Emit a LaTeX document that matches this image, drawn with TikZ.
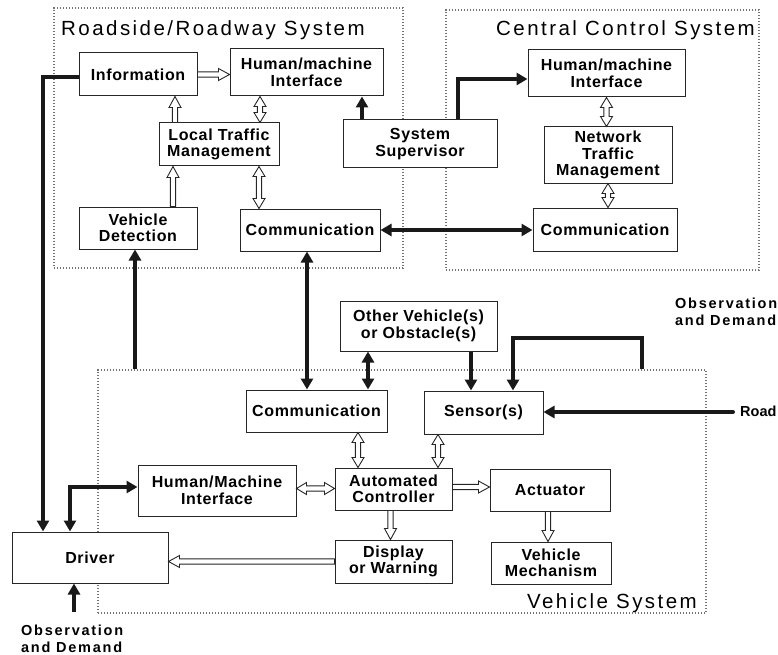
\documentclass[tikz,border=0pt]{standalone}
\usepackage{fontspec}
\setmainfont{Liberation Sans}
\newfontfamily\boxfont[LetterSpace=4]{Liberation Sans}
\newfontfamily\ttlfont[LetterSpace=12]{Liberation Sans}
\newfontfamily\obsfont[LetterSpace=12]{Liberation Sans}
\newfontfamily\roadfont{Liberation Sans}
\usetikzlibrary{arrows.meta,calc}
\newcommand{\hollowarrow}[2]{%
  \coordinate (haA) at #1;
  \coordinate (haB) at #2;
  \coordinate (hab) at ($(haB)!11pt!(haA)$);
  \draw[hollow] ($(haA)!2.6pt!90:(haB)$) -- ($(hab)!2.6pt!90:(haB)$) -- ($(hab)!6pt!90:(haB)$) -- (haB) -- ($(hab)!6pt!-90:(haB)$) -- ($(hab)!2.6pt!-90:(haB)$) -- ($(haA)!2.6pt!-90:(haB)$) -- cycle;}
\newcommand{\hollowdarrow}[2]{%
  \coordinate (haA) at #1;
  \coordinate (haB) at #2;
  \coordinate (hab) at ($(haB)!10pt!(haA)$);
  \coordinate (haa) at ($(haA)!10pt!(haB)$);
  \draw[hollow] (haA) -- ($(haa)!6pt!90:(haB)$) -- ($(haa)!2.6pt!90:(haB)$) -- ($(hab)!2.6pt!90:(haB)$) -- ($(hab)!6pt!90:(haB)$) -- (haB) -- ($(hab)!6pt!-90:(haB)$) -- ($(hab)!2.6pt!-90:(haB)$) -- ($(haa)!2.6pt!-90:(haB)$) -- ($(haa)!6pt!-90:(haB)$) -- cycle;}
\begin{document}
\begin{tikzpicture}[x=1pt,y=-1pt,
  bx/.style={draw=black!85, line width=1pt, fill=white, align=center, inner sep=0pt,
    font=\boxfont\bfseries\fontsize{16}{16.5}\selectfont},
  dotbox/.style={draw=black!55, line width=1.1pt, dash pattern=on 1.1pt off 1.9pt, inner sep=0pt},
  ttl/.style={font=\ttlfont\fontsize{20.5}{22}\selectfont, inner sep=0pt},
  obs/.style={font=\obsfont\bfseries\fontsize{14.5}{17}\selectfont, inner sep=0pt, align=left},
  hollow/.style={draw=black!85, fill=white, line width=0.9pt, line join=miter},
  thk/.style={draw=black!90, line width=3.6pt, -{Triangle[length=11pt,width=12pt]}},
  thkd/.style={draw=black!90, line width=3.6pt, {Triangle[length=11pt,width=12pt]}-{Triangle[length=11pt,width=12pt]}}
]
\useasboundingbox (0,0) rectangle (778,655);

% system frames
\node[dotbox, minimum width=349pt, minimum height=260pt] (rsys) at (228.5,138) {};
\node[dotbox, minimum width=313pt, minimum height=260pt] (csys) at (602.5,140) {};
\node[dotbox, minimum width=608pt, minimum height=243pt] (vsys) at (402,491.5) {};

\node[ttl, anchor=base west] (t1) at (61,36) {Roadside/Roadway System};
\node[ttl, anchor=base east] (t2) at (755,36) {Central Control System};
\node[ttl, anchor=base east] (t3) at (697,608) {Vehicle System};

% roadside
\node[bx, minimum width=118pt, minimum height=43pt] (info) at (138,74.5) {Information};
\node[bx, minimum width=153pt, minimum height=47pt] (rhmi) at (306.5,72.5) {Human/machine\\Interface};
\node[bx, minimum width=120pt, minimum height=43pt] (ltm) at (219,144.5) {Local Traffic\\Management};
\node[bx, minimum width=118pt, minimum height=42pt] (vdet) at (138,228) {Vehicle\\Detection};
\node[bx, minimum width=140pt, minimum height=42pt] (rcomm) at (310,230) {Communication};
\node[bx, minimum width=154pt, minimum height=48pt] (sup) at (420,144) {System\\Supervisor};

% central
\node[bx, minimum width=157pt, minimum height=47pt] (chmi) at (606.5,73.5) {Human/machine\\Interface};
\node[bx, minimum width=128pt, minimum height=56pt] (ntm) at (608,155) {Network\\Traffic\\Management};
\node[bx, minimum width=144pt, minimum height=43pt] (ccomm) at (605,229.5) {Communication};

% vehicle
\node[bx, minimum width=157pt, minimum height=50pt] (other) at (418.5,326) {Other Vehicle(s)\\or Obstacle(s)};
\node[bx, minimum width=141pt, minimum height=42pt] (vcomm) at (316.5,411) {Communication};
\node[bx, minimum width=119pt, minimum height=43pt] (sens) at (483.5,412.5) {Sensor(s)};
\node[bx, minimum width=158pt, minimum height=51pt] (vhmi) at (217,490.5) {Human/Machine\\Interface};
\node[bx, minimum width=117pt, minimum height=42pt] (ac) at (393.5,489) {Automated\\Controller};
\node[bx, minimum width=120pt, minimum height=42pt] (act) at (550,490) {Actuator};
\node[bx, minimum width=117pt, minimum height=43pt] (disp) at (393.5,561.5) {Display\\or Warning};
\node[bx, minimum width=120pt, minimum height=42pt] (mech) at (551,563) {Vehicle\\Mechanism};
\node[bx, minimum width=156pt, minimum height=51pt] (driver) at (90,557.5) {Driver};

% free texts
\node[obs, anchor=north west] (obs1) at (21,625) {Observation\\and Demand};
\node[obs, anchor=north west] (obs2) at (675,298) {Observation\\and Demand};
\node[anchor=north west, inner sep=0pt, font=\roadfont\bfseries\fontsize{14.5}{17}\selectfont] (roadt) at (740,406) {Road};

% hollow arrows
\hollowarrow{(info.east)}{(info.east -| rhmi.west)}
\coordinate (h2) at ([xshift=-44pt]ltm.north);
\hollowarrow{(h2)}{(h2 |- info.south)}
\coordinate (h3) at ([xshift=35pt]vdet.north);
\hollowarrow{(h3)}{(h3 |- ltm.south)}
\coordinate (h4) at ([xshift=41pt]ltm.north);
\hollowdarrow{(h4)}{(h4 |- rhmi.south)}
\coordinate (h5) at ([xshift=40pt]ltm.south);
\hollowdarrow{(h5)}{(h5 |- rcomm.north)}
\hollowdarrow{(chmi.south)}{(chmi.south |- ntm.north)}
\hollowdarrow{(ntm.south)}{(ntm.south |- ccomm.north)}
\coordinate (h8) at ([xshift=41.5pt]vcomm.south);
\hollowdarrow{(h8)}{(h8 |- ac.north)}
\coordinate (h9) at ([xshift=-45.5pt]sens.south);
\hollowdarrow{(h9)}{(h9 |- ac.north)}
\coordinate (h10) at ([yshift=2pt]vhmi.east);
\hollowdarrow{(h10)}{(h10 -| ac.west)}
\coordinate (h11) at ([xshift=-3pt]ac.south);
\hollowarrow{(h11)}{(h11 |- disp.north)}
\hollowarrow{(disp.west)}{(disp.west -| driver.east)}
\coordinate (h13) at ([yshift=2pt]ac.east);
\hollowarrow{(h13)}{(h13 -| act.west)}
\coordinate (h14) at ([xshift=-2pt]act.south);
\hollowarrow{(h14)}{(h14 |- mech.north)}

% thick arrows
\coordinate (lx) at (43,77);
\draw[thk] ([yshift=-2.5pt]info.west) -| (driver.north -| lx);
\coordinate (vd) at ([xshift=-3pt]vdet.south);
\draw[thk] (vd |- vsys.north) -- (vd);
\coordinate (rc) at ([xshift=-3pt]rcomm.south);
\draw[thkd] (rc) -- (rc |- vcomm.north);
\coordinate (s1) at ([xshift=-58pt]sup.north);
\draw[thk] (s1) -- (s1 |- rhmi.south);
\coordinate (s2) at ([xshift=38pt]sup.north);
\draw[thk] (s2) |- ([yshift=-5.5pt]chmi.west);
\draw[thkd] (rcomm.east) -- (rcomm.east -| ccomm.west);
\coordinate (o1) at ([xshift=-50.5pt]other.south);
\draw[thkd] (o1) -- (o1 |- vcomm.north);
\coordinate (o2) at ([xshift=52.5pt]other.south);
\draw[thk] (o2) -- (o2 |- sens.north);
\coordinate (lpx) at (642,338);
\draw[thk] (lpx |- vsys.north) -- (lpx) -| ([xshift=29.5pt]sens.north);
\coordinate (road) at (733,412);
\fill[black!90] (road) circle (2pt);
\draw[thk] (road) -- (road -| sens.east);
\coordinate (dx) at ([xshift=-20pt]driver.north);
\draw[thkd] ([yshift=3.5pt]vhmi.west) -| (dx);
\coordinate (obt) at (74,612);
\draw[thk] (obt) -- (obt |- driver.south);
\end{tikzpicture}
\end{document}
